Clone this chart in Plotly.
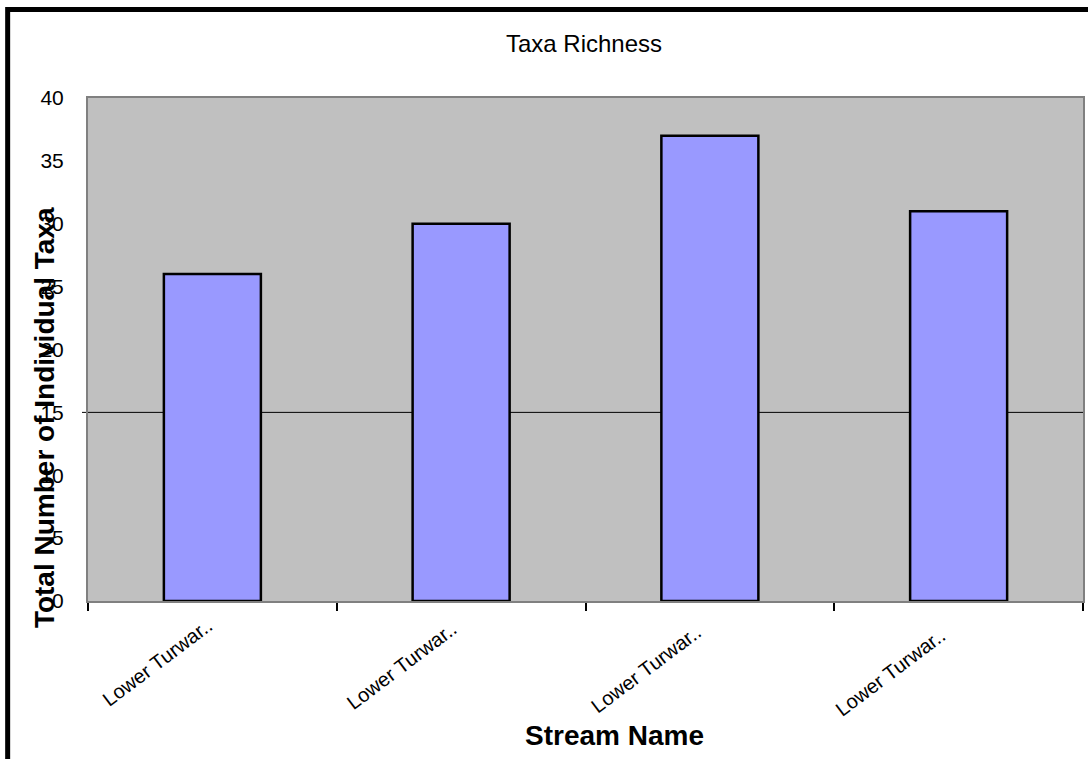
import plotly.graph_objects as go

# Data
streams = ["Lower Turwar.. ", "Lower Turwar..  ", "Lower Turwar..   ", "Lower Turwar..    "]
taxa_counts = [26, 30, 37, 31]
y_ticks = [0, 5, 10, 15, 20, 25, 30, 35, 40]
ref_line_value = 15

W, H = 1088, 759
M_L, M_R, M_T, M_B = 88, 3, 98, 158
plot_w = W - M_L - M_R
plot_h = H - M_T - M_B


def px_x(px):
    return (px - M_L) / plot_w


def px_y(py):
    return 1 - (py - M_T) / plot_h


fig = go.Figure(
    go.Bar(
        x=streams,
        y=taxa_counts,
        width=0.39,
        marker=dict(color="#9999FF", line=dict(color="black", width=2.5)),
    )
)

fig.update_layout(
    width=W,
    height=H,
    margin=dict(l=M_L, r=M_R, t=M_T, b=M_B),
    paper_bgcolor="white",
    plot_bgcolor="#C0C0C0",
    font=dict(family="Liberation Sans, Arial, sans-serif", color="black"),
    showlegend=False,
    bargap=0.61,
    title=dict(
        text="Taxa Richness",
        xref="container",
        yref="container",
        x=584 / W,
        xanchor="center",
        y=1 - 44 / H,
        yanchor="middle",
        font=dict(size=24),
    ),
)

fig.update_xaxes(
    showgrid=False,
    showline=True,
    linecolor="#808080",
    linewidth=2,
    mirror=True,
    ticks="outside",
    tickson="boundaries",
    ticklen=8,
    tickwidth=2,
    tickcolor="black",
    tickangle=-37,
    tickfont=dict(size=20),
)

fig.update_yaxes(
    range=[0, 40],
    tickvals=y_ticks,
    showgrid=False,
    zeroline=False,
    showline=True,
    linecolor="#808080",
    linewidth=2,
    mirror=True,
    ticks="outside",
    ticklen=18,
    tickcolor="rgba(0,0,0,0)",
    tickfont=dict(size=21),
)

# single horizontal reference line with its tick
fig.add_shape(
    type="line",
    xref="paper",
    yref="y",
    x0=px_x(82),
    x1=1,
    y0=ref_line_value,
    y1=ref_line_value,
    line=dict(color="black", width=1),
    layer="below",
)

# outer chart frame
fig.add_shape(
    type="rect",
    xref="paper",
    yref="paper",
    x0=px_x(7.5),
    x1=px_x(W + 20),
    y0=px_y(H + 20),
    y1=px_y(9.5),
    line=dict(color="black", width=5),
    fillcolor="rgba(0,0,0,0)",
)

# axis titles
fig.add_annotation(
    text="<b>Total Number of Individual Taxa</b>",
    xref="paper",
    yref="paper",
    x=px_x(44),
    y=px_y(418),
    textangle=-90,
    showarrow=False,
    font=dict(size=28),
    xanchor="center",
    yanchor="middle",
)
fig.add_annotation(
    text="<b>Stream Name</b>",
    xref="paper",
    yref="paper",
    x=px_x(616),
    y=px_y(735),
    showarrow=False,
    font=dict(size=28),
    xanchor="center",
    yanchor="middle",
)

fig.write_html("out.html")
